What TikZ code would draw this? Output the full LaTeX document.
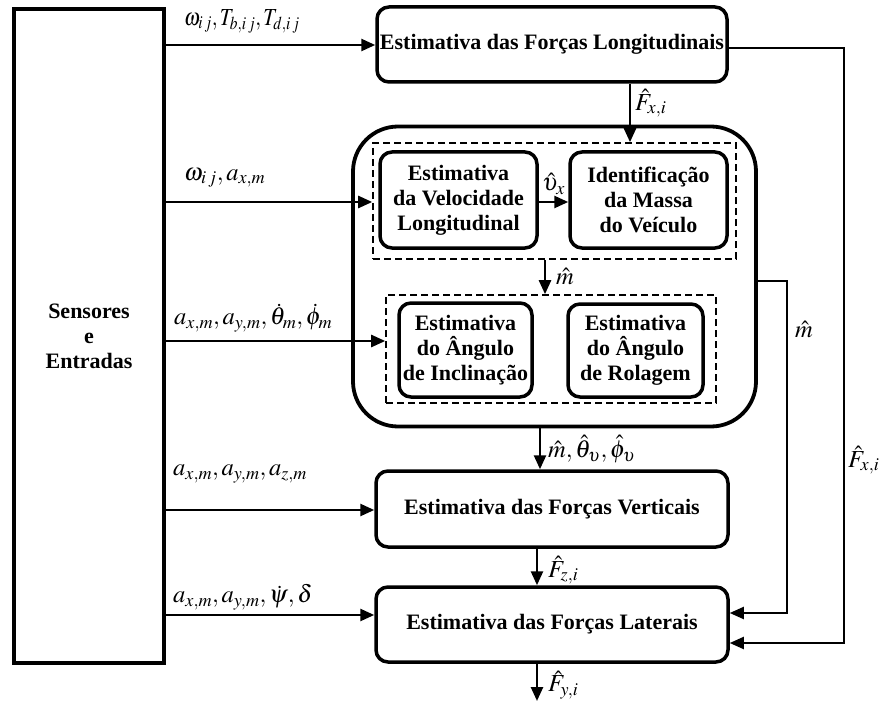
\documentclass[tikz,border=0pt]{standalone}
\usepackage{mathptmx}
\usepackage[no-math]{fontspec}
\setmainfont{Liberation Serif}
\usetikzlibrary{arrows.meta}
\begin{document}
\begin{tikzpicture}[x=1pt,y=-1pt,
  txt/.style={align=center,font=\fontsize{22}{25}\selectfont\bfseries,inner sep=0pt},
  box/.style={txt,draw,line width=3.5pt,rounded corners=12pt},
  dbox/.style={draw,line width=1.6pt,dash pattern=on 7pt off 4pt,inner sep=0pt},
  arr/.style={line width=2.5pt,-{Triangle[length=14pt,width=12pt]}},
  fb/.style={line width=2pt,-{Triangle[length=14pt,width=12pt]}},
  lab/.style={font=\fontsize{24.5}{28}\selectfont,inner sep=0pt,anchor=west}]
\useasboundingbox (0,0) rectangle (881,706);

% main blocks
\node[txt,draw,line width=3.8pt,minimum width=150pt,minimum height=654pt] (sens) at (89,336) {Sensores\\e\\Entradas};
\node[box,minimum width=350pt,minimum height=75pt] (lon) at (552,44.5) {Estimativa das Forças Longitudinais};
\node[draw,line width=3.8pt,rounded corners=45pt,minimum width=403pt,minimum height=300pt,inner sep=0pt] (big) at (554.5,276.5) {};
\node[dbox,minimum width=363pt,minimum height=116pt] (d1) at (554.5,201) {};
\node[box,minimum width=157pt,minimum height=96pt] (vel) at (458.5,200) {Estimativa\\da Velocidade\\Longitudinal};
\node[box,minimum width=157pt,minimum height=96pt] (mas) at (648.5,200) {Identificação\\da Massa\\do Veículo};
\node[dbox,minimum width=330pt,minimum height=108pt] (d2) at (551,349) {};
\node[box,minimum width=133pt,minimum height=94pt] (inc) at (465.5,350) {Estimativa\\do Ângulo\\de Inclinação};
\node[box,minimum width=135pt,minimum height=93pt] (rol) at (635.5,350.5) {Estimativa\\do Ângulo\\de Rolagem};
\node[box,minimum width=352pt,minimum height=76pt] (ver) at (552,509) {Estimativa das Forças Verticais};
\node[box,minimum width=352pt,minimum height=75pt] (lat) at (552,624.5) {Estimativa das Forças Laterais};

% inputs from sensors
\draw[arr] (sens.east |- 0,45) -- (lon.west |- 0,45);
\draw[arr] (sens.east |- 0,202) -- (d1.west |- 0,202);
\draw[arr] (sens.east |- 0,341) -- (d2.west |- 0,341);
\draw[arr] (sens.east |- 0,510) -- (ver.west |- 0,510);
\draw[arr] (sens.east |- 0,615) -- (lat.west |- 0,615);

% internal connections
\draw[arr] (lon.south -| 630,0) -- (d1.north -| 630,0);
\draw[arr] (vel.east |- 0,202) -- (mas.west |- 0,202);
\draw[arr] (d1.south -| 545,0) -- (d2.north -| 545,0);
\draw[arr] (big.south -| 540,0) -- (ver.north -| 540,0);
\draw[arr] (ver.south -| 537,0) -- (lat.north -| 537,0);
\coordinate (out) at (537,701);
\draw[arr] (lat.south -| 537,0) -- (out);

% feedback lines
\draw[fb] (big.east |- 0,281) -- (787,281) -- (787,613) -- (lat.east |- 0,613);
\draw[fb] (lon.east |- 0,48) -- (844,48) -- (844,643) -- (lat.east |- 0,643);

% labels
\node[lab] at (184,21) {\scalebox{0.85}[1]{$\omega_{i\,j},T_{b,i\,j},T_{d,i\,j}$}};
\node[lab] at (184,178) {$\omega_{i\,j},a_{x,m}$};
\node[lab] at (174,318) {$a_{x,m},a_{y,m},\dot{\theta}_m,\dot{\phi}_m$};
\node[lab] at (173,474) {$a_{x,m},a_{y,m},a_{z,m}$};
\node[lab] at (173,597) {$a_{x,m},a_{y,m},\dot{\psi},\delta$};
\node[lab] at (635,103) {$\hat{F}_{x,i}$};
\node[lab] at (542,184) {$\hat{\upsilon}_x$};
\node[lab] at (556,276) {$\hat{m}$};
\node[lab] at (548,449) {$\hat{m},\hat{\theta}_\upsilon,\hat{\phi}_\upsilon$};
\node[lab] at (548,570) {$\hat{F}_{z,i}$};
\node[lab] at (548,685) {$\hat{F}_{y,i}$};
\node[lab] at (795,329) {$\hat{m}$};
\node[lab] at (848,460) {$\hat{F}_{x,i}$};
\end{tikzpicture}
\end{document}
